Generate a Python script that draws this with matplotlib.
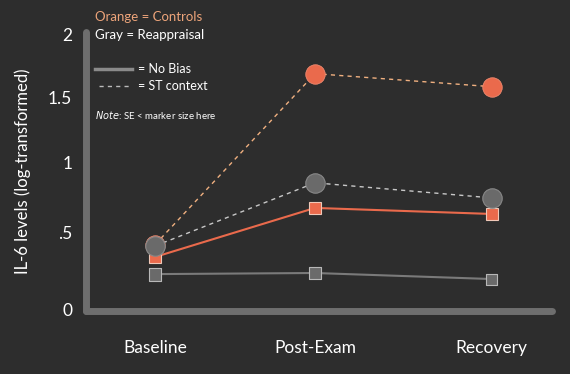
import matplotlib.pyplot as plt
from matplotlib.lines import Line2D

categories = ["Baseline", "Post-Exam", "Recovery"]
ctrl_st = [0.47, 1.715, 1.62]       # Controls, ST context (dashed, circles)
reap_st = [0.46, 0.92, 0.81]        # Reappraisal, ST context
ctrl_nobias = [0.38, 0.737, 0.693]  # Controls, no bias (solid, squares)
reap_nobias = [0.255, 0.263, 0.219] # Reappraisal, no bias
# tick labels sit where the original slide drew them (not evenly spaced)
ytick_vals = [0, 0.555, 1.066, 1.54, 2]
ytick_labels = ["0", ".5", "1", "1.5", "2"]

bg = "#2d2d2d"
axis_gray = "#6e6e6e"
orange = "#ea6a4c"
light_orange = "#f0b080"
gray = "#6a6a6a"
light_gray = "#c8c8c8"

plt.rcParams['font.family'] = ['Lato', 'DejaVu Sans']

fig = plt.figure(figsize=(5.7, 3.74), dpi=100, facecolor=bg)
ax = fig.add_axes([0.151, 0.168, 0.818, 0.747])
ax.set_facecolor(bg)

x = [0, 0.95, 2]

ax.plot(x, ctrl_st, '--', color=light_orange, lw=1, dashes=(3, 3), zorder=2)
ax.plot(x, ctrl_st, 'o', color=orange, ms=14, mec="#f08a70", mew=0.6, zorder=3)
ax.plot(x, ctrl_nobias, '-', color=orange, lw=1.5, zorder=2)
ax.plot(x, ctrl_nobias, 's', color=orange, ms=9, mec="#f0c8b8", mew=0.8, zorder=3)
ax.plot(x, reap_st, '--', color=light_gray, lw=1, dashes=(3, 3), zorder=4)
ax.plot(x, reap_st, 'o', color=gray, ms=14, mec="#888888", mew=0.8, zorder=5)
ax.plot(x, reap_nobias, '-', color="#7a7a7a", lw=1.5, zorder=4)
ax.scatter(x, reap_nobias, marker='s', s=[85, 85, 62], color=gray,
           edgecolors="#b8b8b8", linewidths=0.8, zorder=5)

ax.set_xlim(-0.41, 2.36)
ax.set_ylim(-0.015, 2.02)

for side in ['top', 'right']:
    ax.spines[side].set_visible(False)
for side in ['left', 'bottom']:
    ax.spines[side].set_color(axis_gray)
    ax.spines[side].set_linewidth(5)
    ax.spines[side].set_capstyle('round')

ax.set_xticks(x)
ax.set_xticklabels(categories, color="white", fontsize=12.5)
ax.set_yticks(ytick_vals)
ax.set_yticklabels(ytick_labels, color="white", fontsize=12.5)
ax.tick_params(axis='x', length=0, pad=21)
ax.tick_params(axis='y', length=0, pad=10)
ax.set_ylabel("IL-6 levels (log-transformed)", color="white", fontsize=12, labelpad=12)

# legend text, top left
fig.text(95 / 570, 1 - 17 / 374, "Orange = Controls", color="#eda47a", fontsize=9.5, va='center')
fig.text(95 / 570, 1 - 35 / 374, "Gray = Reappraisal", color="white", fontsize=9.5, va='center')
fig.add_artist(Line2D([95 / 570, 132 / 570], [1 - 69 / 374] * 2, color="#8a8a8a", lw=2.5))
fig.text(138 / 570, 1 - 69 / 374, "= No Bias", color="white", fontsize=9, va='center')
fig.add_artist(Line2D([99 / 570, 132 / 570], [1 - 86 / 374] * 2, color="#bbbbbb", lw=1,
                      linestyle=(0, (3, 3))))
fig.text(138 / 570, 1 - 86 / 374, "= ST context", color="white", fontsize=9, va='center')
fig.text(95 / 570, 1 - 115 / 374, "$\\it{Note}$: SE < marker size here", color="white",
         fontsize=7, va='center')

fig.savefig("out.png", dpi=100, facecolor=bg)
